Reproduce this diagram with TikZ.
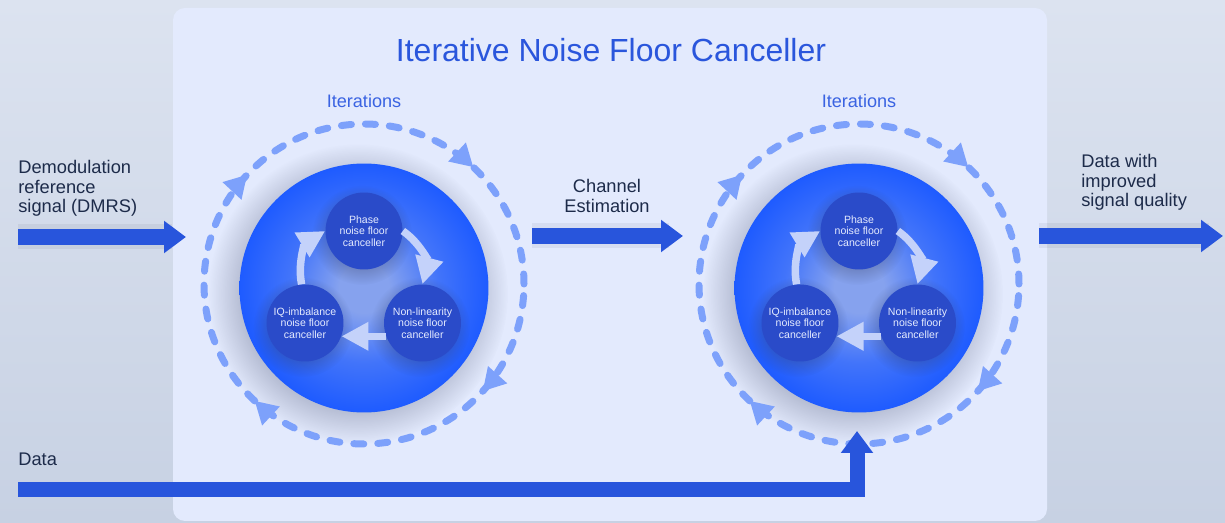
\documentclass[tikz,border=0pt]{standalone}
\usepackage{fontspec}
\setmainfont{Liberation Sans}
\usetikzlibrary{arrows.meta,fadings,calc}
\definecolor{bgtop}{HTML}{DCE3F0}
\definecolor{bgbot}{HTML}{C7D1E3}
\definecolor{panelc}{HTML}{E3EAFD}
\definecolor{arrowblue}{HTML}{2855DC}
\definecolor{ringblue}{HTML}{7DA1FB}
\definecolor{titleblue}{HTML}{2A56DC}
\definecolor{iterblue}{HTML}{3A63E2}
\definecolor{txtdark}{HTML}{1D2B4A}
\definecolor{ballc}{HTML}{86A2EE}
\definecolor{ballm}{HTML}{4274FA}
\definecolor{balle}{HTML}{1E5BFF}
\definecolor{smallfill}{HTML}{2A4BC9}
\definecolor{innerarr}{RGB}{196,210,250}
\definecolor{smalltxt}{HTML}{E6ECFF}
\definecolor{shadowc}{HTML}{30385A}
\pgfdeclareradialshading{bigball}{\pgfpointorigin}{color(0bp)=(ballc); color(5bp)=(ballc); color(15bp)=(ballm); color(25bp)=(balle); color(50bp)=(balle)}
\pgfdeclareradialshading{softedgeshade}{\pgfpointorigin}{color(0bp)=(white); color(16bp)=(white); color(25bp)=(black); color(50bp)=(black)}
\pgfdeclarefading{softedge}{\pgfuseshading{softedgeshade}}
\begin{document}
\begin{tikzpicture}[x=0.02cm,y=0.02cm,
  lbl/.style={text=txtdark, font=\fontsize{10.4}{11.2}\selectfont, inner sep=0},
  iterlbl/.style={text=iterblue, font=\fontsize{10.3}{12}\selectfont, inner sep=0, anchor=base},
  bigc/.style={circle, minimum size=4.98cm, inner sep=0, shade, shading=bigball},
  cancbox/.style={circle, fill=smallfill, minimum size=1.54cm, inner sep=0, text=smalltxt, align=center, font=\fontsize{6}{6.4}\selectfont},
  ringline/.style={draw=ringblue, line width=0.14cm, line cap=round, dash pattern=on 0.2cm off 0.28cm},
  innerarrow/.style={draw=innerarr, line width=0.15cm, -{Triangle[width=0.54cm,length=0.54cm]}},
  mainarrow/.style={draw=arrowblue, line width=0.32cm, -{Triangle[width=0.62cm,length=0.44cm]}},
  arrowshadow/.style={draw=shadowc, opacity=0.07, line width=0.5cm},
  softshadow/.style={fill=shadowc, opacity=0.4, path fading=softedge}
]
\useasboundingbox (0,0) rectangle (1225,-523);
\shade[top color=bgtop, bottom color=bgbot] (0,0) rectangle (1225,-523);
\fill[panelc, rounded corners=0.24cm] (173,-8) rectangle (1047,-521);

\node[text=titleblue, font=\fontsize{18.2}{20}\selectfont, anchor=base, inner sep=0] (title) at (611,-62) {Iterative Noise Floor Canceller};

\foreach \g/\dx in {1/0,2/495}{
\begin{scope}[shift={(\dx,0)}]
  \fill[softshadow] (358,-294) circle (150);
  \node[bigc] (big\g) at (364,-288) {};
  \draw[ringline] (364,-284) circle (160);
  \foreach \a in {47,-42,-133,137}{
    \fill[ringblue, shift={(364,-284)}, rotate=\a] (160,0) -- (147,22) -- (173,22) -- cycle;
  }
  \node[iterlbl] (it\g) at (364,-108) {Iterations};
  \fill[softshadow, opacity=0.3] (362,-235) circle (50);
  \fill[softshadow, opacity=0.3] (303,-327) circle (50);
  \fill[softshadow, opacity=0.3] (420,-327) circle (50);
  \node[cancbox] (ph\g) at (364,-231) {Phase\\noise floor\\canceller};
  \node[cancbox] (iq\g) at (305,-323) {IQ-imbalance\\noise floor\\canceller};
  \node[cancbox] (nl\g) at (422.5,-323) {Non-linearity\\noise floor\\canceller};
  \draw[innerarrow] (ph\g.0) to[bend left=35] (nl\g.90);
  \draw[innerarrow] (nl\g.200) -- (iq\g.-20);
  \draw[innerarrow] (iq\g.95) to[bend left=35] (ph\g.180);
\end{scope}
}

\coordinate (dmrsA) at (18,-237);
\coordinate (dmrsB) at (186,-237);
\coordinate (chA) at (532,-236);
\coordinate (chB) at (683,-236);
\coordinate (outA) at (1039,-236);
\coordinate (outB) at (1223,-236);
\coordinate (dataA) at (18,-490);
\coordinate (dataT) at (857,-431);
\begin{scope}[yshift=-0.07cm]
\draw[arrowshadow] (dmrsA) -- ($(dmrsB)+(-14,0)$);
\draw[arrowshadow] (chA) -- ($(chB)+(-14,0)$);
\draw[arrowshadow] (outA) -- ($(outB)+(-14,0)$);
\end{scope}
\draw[mainarrow] (dmrsA) -- (dmrsB);
\draw[mainarrow] (chA) -- (chB);
\draw[mainarrow] (outA) -- (outB);
\draw[mainarrow, line width=0.3cm] (dataA) -| (dataT);

\node[lbl, anchor=north west, align=left] (dmrs) at (18,-160) {Demodulation\\reference\\signal (DMRS)};
\node[lbl, anchor=north, align=center] (chest) at (607,-179) {Channel\\Estimation};
\node[lbl, anchor=north west, align=left] (outlbl) at (1081,-154) {Data with\\improved\\signal quality};
\node[lbl, anchor=base west] (datalbl) at (18,-466) {Data};
\end{tikzpicture}
\end{document}
